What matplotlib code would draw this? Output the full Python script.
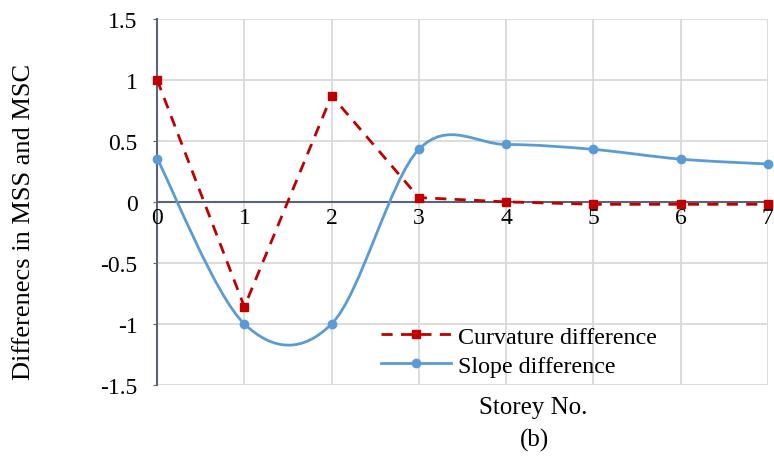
import matplotlib
matplotlib.use('Agg')
import matplotlib.pyplot as plt
from matplotlib.path import Path
import matplotlib.patches as patches
import numpy as np

# storey numbers and the two difference series
storeys = [0, 1, 2, 3, 4, 5, 6, 7]
curvature_diff = [1.0, -0.86, 0.87, 0.035, 0.0, -0.02, -0.02, -0.02]
slope_diff = [0.355, -1.0, -1.0, 0.43, 0.47, 0.43, 0.35, 0.31]
y_ticks = [-1.5, -1, -0.5, 0, 0.5, 1, 1.5]
y_tick_labels = ['-1.5', '-1', '-0.5', '0', '0.5', '1', '1.5']

RED = '#C00000'
BLUE = '#5B9BD5'
GRID = '#D9D9D9'
AXIS = '#5A6474'

plt.rcParams['font.family'] = ['Liberation Serif', 'DejaVu Serif']


def smooth_path(xs, ys):
    # excel style smoothed line: catmull-rom segments as cubic beziers
    pts = np.column_stack([xs, ys]).astype(float)
    n = len(pts)
    verts = [pts[0]]
    codes = [Path.MOVETO]
    for i in range(n - 1):
        p0 = pts[i - 1] if i > 0 else pts[i]
        p1 = pts[i]
        p2 = pts[i + 1]
        p3 = pts[i + 2] if i + 2 < n else pts[i + 1]
        c1 = p1 + (p2 - p0) / 6
        c2 = p2 - (p3 - p1) / 6
        verts += [c1, c2, p2]
        codes += [Path.CURVE4] * 3
    return Path(verts, codes)


fig = plt.figure(figsize=(7.74, 4.60), dpi=100)
ax = fig.add_axes([0.203, 0.161, 0.789, 0.796])

ax.set_xlim(0, 7)
ax.set_ylim(-1.5, 1.5)

# gridlines
for y in y_ticks:
    ax.axhline(y, color=GRID, lw=1.3, zorder=0)
for x in storeys[1:]:
    ax.axvline(x, color=GRID, lw=1.3, zorder=0)
ax.axhline(0, color=AXIS, lw=1.5, zorder=1)

# slope difference: smoothed line with round markers
ax.add_patch(patches.PathPatch(smooth_path(storeys, slope_diff), facecolor='none',
                               edgecolor=BLUE, lw=2, zorder=2, clip_on=False))
ax.plot(storeys, slope_diff, 'o', color=BLUE, markersize=6, zorder=3, clip_on=False)

# curvature difference: dashed line with square markers
ax.plot(storeys, curvature_diff, '--s', color=RED, lw=2, markersize=6,
        dashes=(4, 3), zorder=4, clip_on=False)

# legend handles
ax.plot([], [], '--s', color=RED, lw=2, markersize=6, dashes=(4, 3), label='Curvature difference')
ax.plot([], [], '-o', color=BLUE, lw=2, markersize=6, label='Slope difference')
ax.legend(loc='upper left', bbox_to_anchor=(0.351, 0.188), frameon=False,
          fontsize=17.3, handlelength=2.9, handletextpad=0.3, labelspacing=0.3,
          borderaxespad=0)

for s in ['top', 'right', 'bottom']:
    ax.spines[s].set_visible(False)
ax.spines['left'].set_color(AXIS)
ax.spines['left'].set_linewidth(1.5)

ax.set_yticks(y_ticks)
ax.set_yticklabels(y_tick_labels, fontsize=17)
ax.tick_params(axis='y', length=3, color=AXIS, pad=11)
ax.set_xticks([])

# x tick labels sit just under the zero line
for x in storeys:
    ax.text(x, -0.04, str(x), ha='center', va='top', fontsize=17, color='black')

fig.text(0.031, 0.517, 'Differenecs in MSS and MSC', rotation=90,
         ha='center', va='center', fontsize=19)
fig.text(0.689, 0.113, 'Storey No.', ha='center', va='center', fontsize=18)
fig.text(0.691, 0.043, '(b)', ha='center', va='center', fontsize=18)

plt.savefig('out.png', dpi=100)
